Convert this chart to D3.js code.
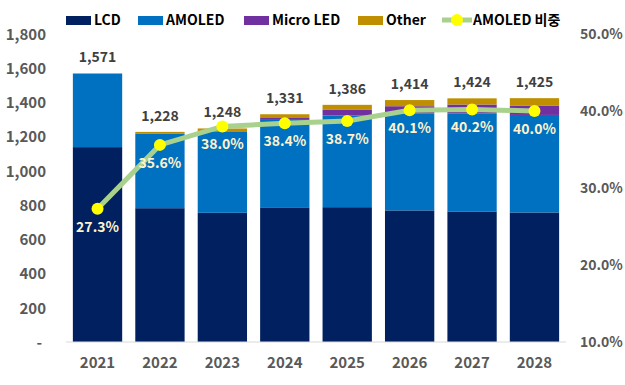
<!DOCTYPE html>
<html>
<head>
<meta charset="utf-8">
<script src="https://cdn.jsdelivr.net/npm/d3@7"></script>
<style>
  body { margin: 0; background: #fff; }
  text { font-family: "Noto Sans CJK KR", "Noto Sans", sans-serif; font-weight: bold; }
</style>
</head>
<body>
<div id="chart"></div>
<script>
// data
const years = ["2021", "2022", "2023", "2024", "2025", "2026", "2027", "2028"];
const lcd = [1139, 782, 755, 787, 788, 769, 763, 757];
const amoled = [429, 437, 474, 511, 536, 567, 572, 570];
const microLed = [0, 0, 3, 11, 35, 42, 53, 53];
const other = [3, 9, 16, 22, 27, 36, 36, 45];
const totals = [1571, 1228, 1248, 1331, 1386, 1414, 1424, 1425];
const amoledShare = [27.3, 35.6, 38.0, 38.4, 38.7, 40.1, 40.2, 40.0];
const leftTicks = [0, 200, 400, 600, 800, 1000, 1200, 1400, 1600, 1800];
const rightTicks = [10, 20, 30, 40, 50];

const seriesNames = ["LCD", "AMOLED", "Micro LED", "Other"];
const seriesColors = ["#002060", "#0070C0", "#7030A0", "#BF8F00"];

function init() {
    let w = 625;
    let h = 385;
    const margin = { top: 34, right: 59, bottom: 43, left: 66 };

    let svg = d3.select("#chart")
        .append("svg")
        .attr("width", w)
        .attr("height", h);

    let x = d3.scaleBand()
        .domain(years)
        .range([margin.left, w - margin.right])
        .paddingInner(0.21)
        .paddingOuter(0.11);

    let y = d3.scaleLinear()
        .domain([0, 1800])
        .range([h - margin.bottom, margin.top]);

    let y2 = d3.scaleLinear()
        .domain([10, 50])
        .range([h - margin.bottom, margin.top]);

    // build rows for the stack
    let rows = years.map(function (yr, i) {
        return { year: yr, "LCD": lcd[i], "AMOLED": amoled[i], "Micro LED": microLed[i], "Other": other[i] };
    });
    let stacked = d3.stack().keys(seriesNames)(rows);

    svg.selectAll("g.layer")
        .data(stacked)
        .enter()
        .append("g")
        .attr("class", "layer")
        .attr("fill", (d, i) => seriesColors[i])
        .selectAll("rect")
        .data(d => d)
        .enter()
        .append("rect")
        .attr("x", d => x(d.data.year))
        .attr("width", x.bandwidth())
        .attr("y", d => y(d[1]))
        .attr("height", d => y(d[0]) - y(d[1]));

    // baseline
    svg.append("line")
        .attr("x1", margin.left)
        .attr("x2", w - margin.right)
        .attr("y1", y(0))
        .attr("y2", y(0))
        .attr("stroke", "#d9d9d9")
        .attr("stroke-width", 1);

    // left axis
    let leftAxis = d3.axisLeft(y)
        .tickValues(leftTicks)
        .tickSize(0)
        .tickPadding(0)
        .tickFormat(d => d === 0 ? "-" : d3.format(",")(d));
    let gl = svg.append("g")
        .attr("transform", "translate(46,0)")
        .call(leftAxis);
    gl.select(".domain").remove();
    gl.selectAll("text")
        .attr("fill", "#595959")
        .style("font-size", "15px")
        .attr("dy", "0.35em");
    gl.selectAll("text").filter(d => d === 0).attr("dx", -4);

    // right axis
    let rightAxis = d3.axisRight(y2)
        .tickValues(rightTicks)
        .tickSize(0)
        .tickPadding(0)
        .tickFormat(d => d3.format(".1f")(d) + "%");
    let gr = svg.append("g")
        .attr("transform", "translate(580,0)")
        .call(rightAxis);
    gr.select(".domain").remove();
    gr.selectAll("text")
        .attr("fill", "#595959")
        .style("font-size", "14px")
        .attr("dy", "0.35em");

    // bottom axis
    let bottomAxis = d3.axisBottom(x).tickSize(0).tickPadding(15);
    let gb = svg.append("g")
        .attr("transform", "translate(0," + y(0) + ")")
        .call(bottomAxis);
    gb.select(".domain").remove();
    gb.selectAll("text")
        .attr("fill", "#595959")
        .style("font-size", "15px");

    // total labels
    svg.selectAll("text.total")
        .data(totals)
        .enter()
        .append("text")
        .attr("class", "total")
        .attr("x", (d, i) => x(years[i]) + x.bandwidth() / 2)
        .attr("y", d => y(d) - 11)
        .attr("text-anchor", "middle")
        .attr("fill", "#404040")
        .style("font-size", "14px")
        .text(d => d3.format(",")(d));

    // AMOLED share line
    let line = d3.line()
        .x((d, i) => x(years[i]) + x.bandwidth() / 2)
        .y(d => y2(d));

    svg.append("path")
        .datum(amoledShare)
        .attr("d", line)
        .attr("fill", "none")
        .attr("stroke", "#A9D18E")
        .attr("stroke-width", 5);

    svg.selectAll("circle.pt")
        .data(amoledShare)
        .enter()
        .append("circle")
        .attr("class", "pt")
        .attr("cx", (d, i) => x(years[i]) + x.bandwidth() / 2)
        .attr("cy", d => y2(d))
        .attr("r", 6)
        .attr("fill", "#FFFF00");

    svg.selectAll("text.share")
        .data(amoledShare)
        .enter()
        .append("text")
        .attr("class", "share")
        .attr("x", (d, i) => x(years[i]) + x.bandwidth() / 2)
        .attr("y", d => y2(d) + 23)
        .attr("text-anchor", "middle")
        .attr("fill", "#FFF2CC")
        .style("font-size", "14px")
        .text(d => d3.format(".1f")(d) + "%");

    // legend
    let legendX = [66, 138, 244, 358];
    let legend = svg.append("g");
    seriesNames.forEach(function (name, i) {
        legend.append("rect")
            .attr("x", legendX[i])
            .attr("y", 16)
            .attr("width", 25)
            .attr("height", 9)
            .attr("fill", seriesColors[i]);
        legend.append("text")
            .attr("x", legendX[i] + 28)
            .attr("y", 20)
            .attr("dy", "0.35em")
            .attr("fill", "#000")
            .style("font-size", "14px")
            .text(name);
    });
    legend.append("line")
        .attr("x1", 442)
        .attr("x2", 472)
        .attr("y1", 20)
        .attr("y2", 20)
        .attr("stroke", "#A9D18E")
        .attr("stroke-width", 5);
    legend.append("circle")
        .attr("cx", 457)
        .attr("cy", 20)
        .attr("r", 6)
        .attr("fill", "#FFFF00");
    legend.append("text")
        .attr("x", 473)
        .attr("y", 20)
        .attr("dy", "0.35em")
        .attr("fill", "#000")
        .style("font-size", "14px")
        .text("AMOLED 비중");
}

window.addEventListener('load', init);
</script>
</body>
</html>
